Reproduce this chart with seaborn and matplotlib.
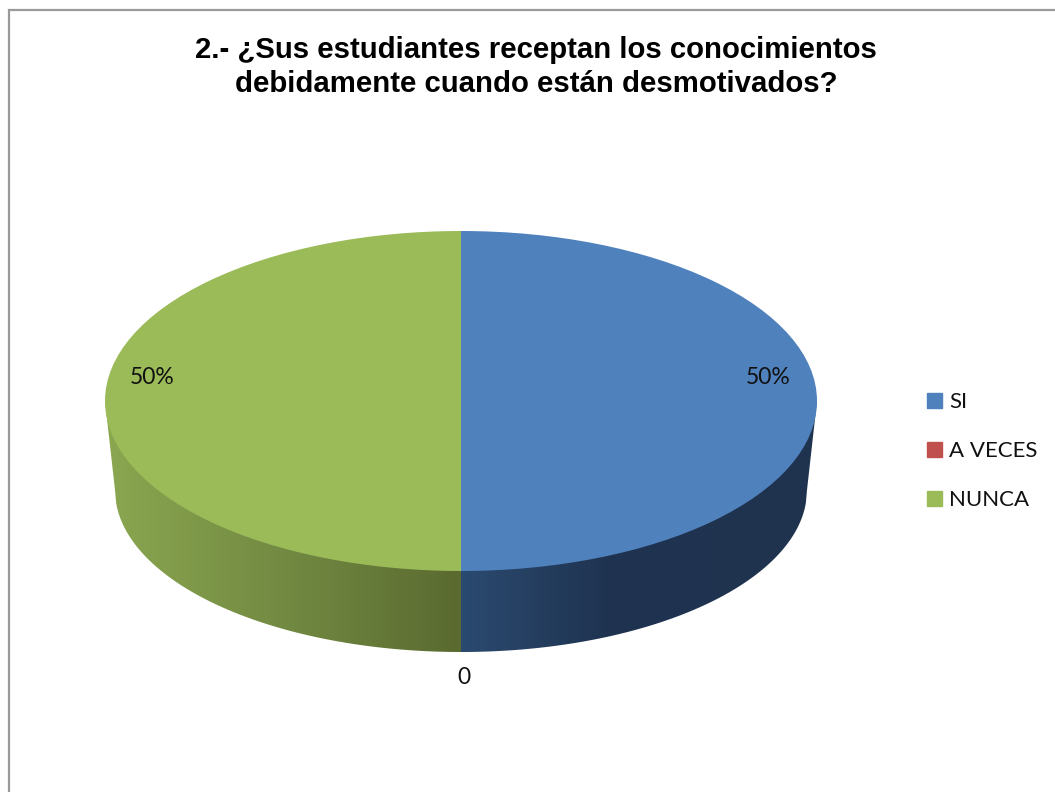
import numpy as np
import matplotlib
matplotlib.use('Agg')
import matplotlib.pyplot as plt
import matplotlib.patches as mpatches
from matplotlib.colors import LinearSegmentedColormap
import seaborn as sns

title = '2.- ¿Sus estudiantes receptan los conocimientos\ndebidamente cuando están desmotivados?'
categories = ['SI', 'A VECES', 'NUNCA']
values = [50, 0, 50]
value_labels = ['50%', '0', '50%']
colors = ['#4F81BD', '#C0504D', '#9BBB59']

W, H = 1055, 792
sns.set_theme(style='white')
plt.rcParams['font.family'] = ['Lato', 'DejaVu Sans']

fig = plt.figure(figsize=(W / 100, H / 100), dpi=100)

# frame of the chart area, runs off the right and bottom of the picture
fig.add_artist(plt.Rectangle((9.2 / W, -0.1), 1.1, 1 + 0.1 - 10.5 / H, transform=fig.transFigure,
                             fill=False, edgecolor='#9a9a9a', linewidth=1.6))

fig.text(536 / W, 1 - 67 / H, title, ha='center', va='center', fontsize=21.2, fontweight='bold',
         family='Liberation Sans', color='black', linespacing=1.3)

# pie top is an ellipse: pie in an axes stretched to the ellipse box, wall below it
cx, cy, rx, ry, depth = 461, 401, 356, 170, 81
base_rx, base_ry, base_drop = 346, 162, 89  # bottom rim is a bit smaller (perspective)
d = depth / ry
pad = 4
ax = fig.add_axes([(cx - rx - pad) / W, 1 - (cy + ry + depth + pad) / H,
                   (2 * rx + 2 * pad) / W, (2 * ry + depth + 2 * pad) / H])
wedges, _ = ax.pie(values, colors=colors, startangle=90, counterclock=False, radius=1,
                   wedgeprops={'linewidth': 0}, normalize=True)
for w in wedges:
    w.set_zorder(3)

# side wall with the shading of the old office 3d pie
green_side = LinearSegmentedColormap.from_list('g', ['#8BA750', '#728A42', '#5A6A30'])
blue_side = LinearSegmentedColormap.from_list('b', [(0, '#2B4A70'), (0.4, '#1F3451'), (1, '#1F334F')])
for cmap, x0, x1 in [(green_side, -1, 0), (blue_side, 0, 1)]:
    u = np.linspace(x0, x1, 300)
    rim_x = u * base_rx / rx
    rim_y = -(base_drop + np.sqrt(np.clip(1 - u ** 2, 0, 1)) * base_ry) / ry
    outline = np.column_stack([np.r_[x0, rim_x, x1], np.r_[0, rim_y, 0]])
    im = ax.imshow(np.linspace(0, 1, 256)[None, :], cmap=cmap, aspect='auto', zorder=2,
                   extent=(x0, x1, -1 - d, 0))
    im.set_clip_path(mpatches.Polygon(outline, transform=ax.transData))

ax.set_aspect('auto')
ax.set_xlim(-1 - pad / rx, 1 + pad / rx)
ax.set_ylim(-1 - d - pad / ry, 1 + pad / ry)
ax.axis('off')

# data labels
label_pos = [(768, 378), (464, 677), (152, 378)]
for lab, (px, py) in zip(value_labels, label_pos):
    fig.text(px / W, 1 - py / H, lab, ha='center', va='center', fontsize=16.5, color='#111111', zorder=5)

handles = [mpatches.Patch(color=c, label=n) for c, n in zip(colors, categories)]
fig.legend(handles=handles, loc='center left', bbox_to_anchor=(907 / W, 1 - 451 / H), frameon=False,
           fontsize=16, handlelength=0.67, handleheight=0.67, handletextpad=0.32, labelspacing=1.3,
           labelcolor='#111111')

fig.savefig('out.png', dpi=100, facecolor='white')
